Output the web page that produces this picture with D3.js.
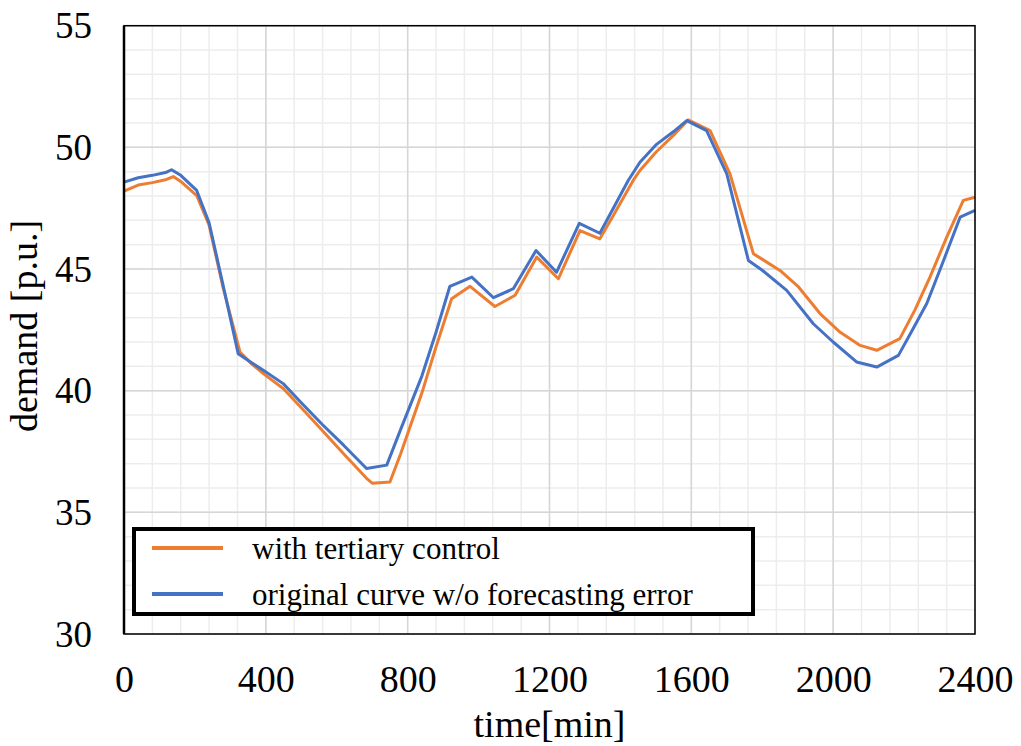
<!DOCTYPE html>
<html>
<head>
<meta charset="utf-8">
<script src="https://cdn.jsdelivr.net/npm/d3@7"></script>
<style>
  html, body { margin: 0; padding: 0; background: #fff; }
  svg { display: block; }
  text { font-family: "Liberation Serif", "Times New Roman", serif; fill: #000; }
</style>
</head>
<body>
<svg id="chart" width="1021" height="746"></svg>
<script>
// ---- data ----
const timesOrange = [0, 40, 80, 120, 139, 160, 205, 240, 280, 327, 360, 393, 449, 500, 560, 620, 684, 700, 750, 780, 840, 880, 924, 976, 1046, 1103, 1164, 1225, 1286, 1342, 1380, 1436, 1455, 1500, 1550, 1591, 1653, 1709, 1775, 1850, 1900, 1963, 2020, 2076, 2123, 2188, 2230, 2273, 2320, 2367, 2400];
const withTertiary = [48.20, 48.45, 48.55, 48.68, 48.80, 48.60, 48.02, 46.8, 44.2, 41.59, 41.1, 40.7, 40.09, 39.3, 38.35, 37.4, 36.4, 36.2, 36.25, 37.4, 39.9, 41.8, 43.78, 44.29, 43.46, 43.92, 45.49, 44.60, 46.58, 46.24, 47.2, 48.64, 49.05, 49.8, 50.5, 51.13, 50.69, 48.91, 45.63, 44.94, 44.3, 43.17, 42.4, 41.86, 41.66, 42.14, 43.3, 44.67, 46.3, 47.82, 47.95];

const timesBlue = [0, 40, 80, 120, 134, 160, 205, 240, 280, 322, 360, 393, 449, 500, 560, 620, 684, 741, 780, 840, 880, 919, 981, 1042, 1098, 1162, 1220, 1284, 1342, 1380, 1422, 1455, 1500, 1550, 1587, 1643, 1700, 1761, 1800, 1869, 1944, 2000, 2066, 2123, 2184, 2220, 2264, 2310, 2358, 2400];
const originalCurve = [48.57, 48.75, 48.85, 48.98, 49.08, 48.85, 48.23, 46.9, 44.3, 41.52, 41.15, 40.84, 40.29, 39.5, 38.6, 37.75, 36.80, 36.94, 38.4, 40.6, 42.4, 44.29, 44.67, 43.82, 44.19, 45.76, 44.87, 46.88, 46.47, 47.5, 48.64, 49.39, 50.1, 50.65, 51.10, 50.69, 48.91, 45.35, 44.95, 44.12, 42.75, 42.0, 41.18, 40.97, 41.45, 42.4, 43.58, 45.3, 47.13, 47.41];

const xTicks = [0, 400, 800, 1200, 1600, 2000, 2400];
const yTicks = [30, 35, 40, 45, 50, 55];
const seriesNames = ["with tertiary control", "original curve w/o forecasting error"];
const seriesColors = ["#ED7D31", "#4472C4"];

// ---- layout ----
const svg = d3.select("#chart");
const L = 124, R = 975, T = 25.7, B = 634;
const x = d3.scaleLinear().domain([0, 2400]).range([L, R]);
const y = d3.scaleLinear().domain([30, 55]).range([B, T]);

// minor grid
const g = svg.append("g");
g.selectAll(".vminor").data(d3.range(0, 2401, 80)).enter().append("line")
  .attr("x1", d => x(d)).attr("x2", d => x(d)).attr("y1", T).attr("y2", B)
  .attr("stroke", "#ededed").attr("stroke-width", 1.5);
g.selectAll(".hminor").data(d3.range(30, 55.01, 1)).enter().append("line")
  .attr("y1", d => y(d)).attr("y2", d => y(d)).attr("x1", L).attr("x2", R)
  .attr("stroke", "#ededed").attr("stroke-width", 1.5);
// major grid
g.selectAll(".vmajor").data(xTicks).enter().append("line")
  .attr("x1", d => x(d)).attr("x2", d => x(d)).attr("y1", T).attr("y2", B)
  .attr("stroke", "#d6d6d6").attr("stroke-width", 1.5);
g.selectAll(".hmajor").data(yTicks).enter().append("line")
  .attr("y1", d => y(d)).attr("y2", d => y(d)).attr("x1", L).attr("x2", R)
  .attr("stroke", "#d6d6d6").attr("stroke-width", 1.5);

// series
const line = d3.line().x(d => x(d[0])).y(d => y(d[1]));
svg.append("path").datum(d3.zip(timesOrange, withTertiary))
  .attr("d", line).attr("fill", "none").attr("stroke", seriesColors[0])
  .attr("stroke-width", 3).attr("stroke-linejoin", "round");
svg.append("path").datum(d3.zip(timesBlue, originalCurve))
  .attr("d", line).attr("fill", "none").attr("stroke", seriesColors[1])
  .attr("stroke-width", 3).attr("stroke-linejoin", "round");

// frame
svg.append("rect").attr("x", L).attr("y", T).attr("width", R - L).attr("height", B - T)
  .attr("fill", "none").attr("stroke", "#000").attr("stroke-width", 1.5);
svg.append("line").attr("x1", L).attr("x2", L).attr("y1", T).attr("y2", B)
  .attr("stroke", "#000").attr("stroke-width", 2.5);

// axes (labels only, via d3 axes)
const xAxis = svg.append("g").attr("transform", `translate(0,${B})`)
  .call(d3.axisBottom(x).tickValues(xTicks).tickSize(0).tickPadding(0).tickFormat(d3.format("d")));
xAxis.select(".domain").remove();
xAxis.selectAll("text").attr("font-size", 38).attr("dy", null).attr("y", 58)
  .style("font-family", "'Liberation Serif', 'Times New Roman', serif").attr("fill", "#000");

const yAxis = svg.append("g").attr("transform", `translate(${L},0)`)
  .call(d3.axisLeft(y).tickValues(yTicks).tickSize(0).tickPadding(0).tickFormat(d3.format("d")));
yAxis.select(".domain").remove();
yAxis.selectAll("text").attr("font-size", 37).attr("x", -32).attr("dy", null).attr("y", 12)
  .style("font-family", "'Liberation Serif', 'Times New Roman', serif").attr("fill", "#000");

// axis titles
svg.append("text").attr("x", (L + R) / 2).attr("y", 737).attr("text-anchor", "middle")
  .attr("font-size", 38).text("time[min]");
svg.append("text").attr("transform", "translate(37,326) rotate(-90)").attr("text-anchor", "middle")
  .attr("font-size", 38).text("demand [p.u.]");

// legend
const lg = svg.append("g");
lg.append("rect").attr("x", 134).attr("y", 529).attr("width", 619).attr("height", 85)
  .attr("fill", "#fff").attr("stroke", "#000").attr("stroke-width", 4);
seriesNames.forEach((name, i) => {
  const cy = 548 + i * 46;
  lg.append("line").attr("x1", 152).attr("x2", 223).attr("y1", cy).attr("y2", cy)
    .attr("stroke", seriesColors[i]).attr("stroke-width", 4);
  lg.append("text").attr("x", 252).attr("y", cy + 11).attr("font-size", 31).text(name);
});
</script>
</body>
</html>
